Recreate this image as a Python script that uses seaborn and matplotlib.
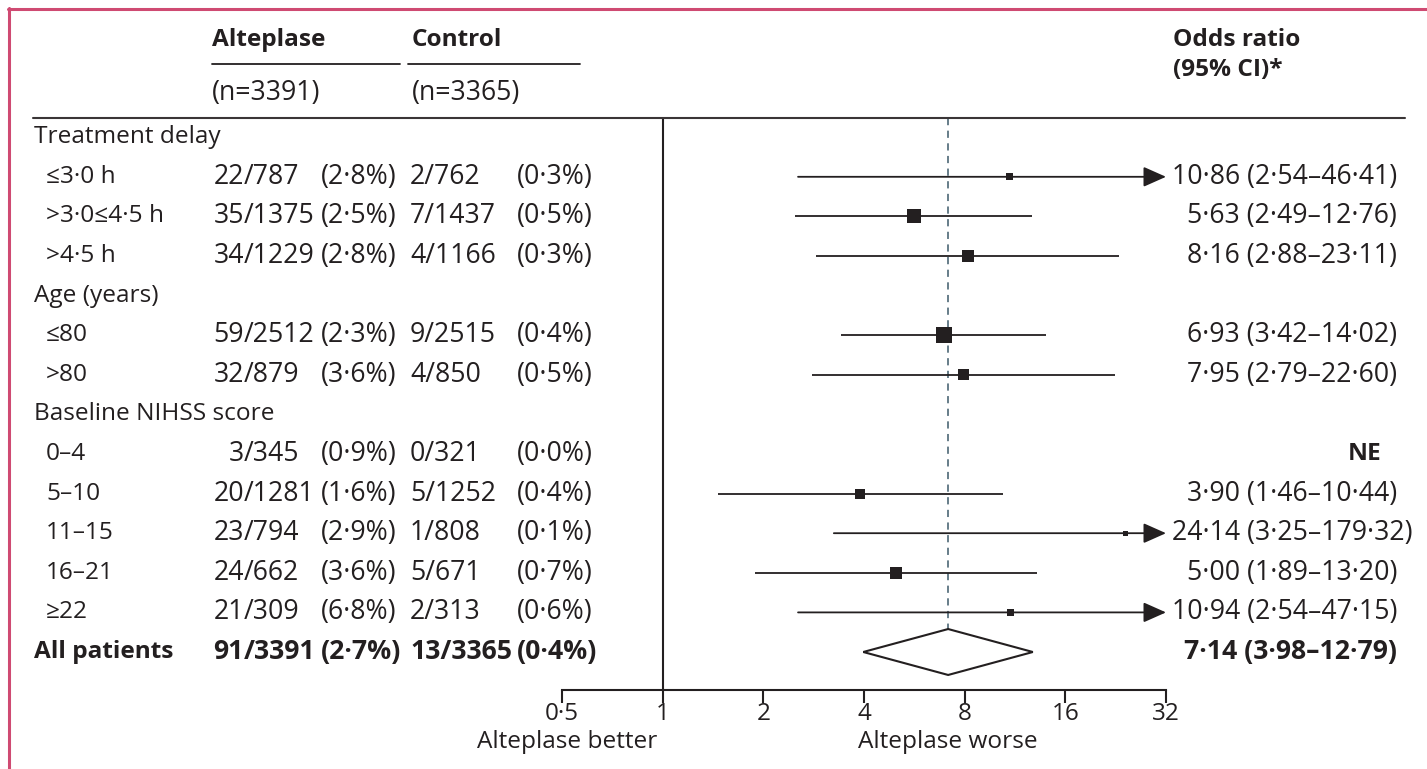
import pandas as pd
import seaborn as sns
import matplotlib.pyplot as plt
from matplotlib.lines import Line2D
from matplotlib.ticker import NullLocator
from matplotlib.transforms import blended_transform_factory

# Rows of the forest plot (top to bottom)
labels = ['Treatment delay', '≤3·0 h', '>3·0≤4·5 h', '>4·5 h',
          'Age (years)', '≤80', '>80',
          'Baseline NIHSS score', '0–4', '5–10', '11–15', '16–21', '≥22',
          'All patients']
kinds = ['group', 'sub', 'sub', 'sub',
         'group', 'sub', 'sub',
         'group', 'sub', 'sub', 'sub', 'sub', 'sub',
         'total']

alt_events = [None, 22, 35, 34, None, 59, 32, None, 3, 20, 23, 24, 21, 91]
alt_n = [None, 787, 1375, 1229, None, 2512, 879, None, 345, 1281, 794, 662, 309, 3391]
ctl_events = [None, 2, 7, 4, None, 9, 4, None, 0, 5, 1, 5, 2, 13]
ctl_n = [None, 762, 1437, 1166, None, 2515, 850, None, 321, 1252, 808, 671, 313, 3365]

odds = [None, 10.86, 5.63, 8.16, None, 6.93, 7.95, None, None, 3.90, 24.14, 5.00, 10.94, 7.14]
ci_lo = [None, 2.54, 2.49, 2.88, None, 3.42, 2.79, None, None, 1.46, 3.25, 1.89, 2.54, 3.98]
ci_hi = [None, 46.41, 12.76, 23.11, None, 14.02, 22.60, None, None, 10.44, 179.32, 13.20, 47.15, 12.79]
# box size (weight) in pixels
box_px = [None, 7, 14, 12, None, 16, 11, None, None, 10, 5, 12, 7, None]

ticks = [0.5, 1, 2, 4, 8, 16, 32]
tick_labels = ['0·5', '1', '2', '4', '8', '16', '32']

W, H = 1427, 769
INK = '#231f20'
FS = 17.6      # words
FN = 19.2      # numbers
FT = 17.5      # tick labels


def fx(px):
    return px / W


def fy(py):
    return 1 - py / H


def dot(v, fmt):
    return format(v, fmt).replace('.', '·')


sns.set_theme(style='white')
plt.rcParams['font.family'] = ['Open Sans', 'DejaVu Sans']
plt.rcParams['text.color'] = INK

fig = plt.figure(figsize=(W / 100, H / 100), dpi=100)
ax = fig.add_axes([fx(562), fy(690), fx(1166) - fx(562), (690 - 118) / H])

n_rows = len(labels)
step = 39.6
last_y = 652
ax.set_xscale('log', base=2)
ax.set_xlim(ticks[0], ticks[-1])
ax.set_ylim(n_rows - 1 + (690 - last_y) / step,
            n_rows - 1 - (last_y - 118) / step)

df = pd.DataFrame({'row': range(n_rows), 'label': labels, 'kind': kinds,
                   'or': odds, 'lo': ci_lo, 'hi': ci_hi, 'box': box_px})

# vertical reference lines
ax.axvline(1, color=INK, lw=1.5, zorder=1)
diamond_half = 0.58
total = df[df['kind'] == 'total'].iloc[0]
ax.vlines(total['or'], ax.get_ylim()[1], total['row'] - diamond_half,
          color='#5b7380', lw=1.3, linestyles=(0, (4, 3)), zorder=1)

# confidence intervals
top = ticks[-1]
subs = df[(df['kind'] == 'sub') & df['or'].notna()]
for _, r in subs.iterrows():
    if r['hi'] > top:
        ax.annotate('', xy=(top, r['row']), xytext=(r['lo'], r['row']),
                    arrowprops=dict(arrowstyle='-|>,head_length=0.45,head_width=0.2',
                                    mutation_scale=31, color=INK, lw=1.3,
                                    shrinkA=0, shrinkB=0))
    else:
        ax.hlines(r['row'], r['lo'], r['hi'], color=INK, lw=1.3)

# boxes
sizes = {b: (b * 0.72) ** 2 for b in subs['box'].unique()}
sns.scatterplot(data=subs, x='or', y='row', size='box', sizes=sizes,
                marker='s', color=INK, linewidth=0, legend=False, ax=ax, zorder=3)

# pooled diamond
ax.fill([total['lo'], total['or'], total['hi'], total['or']],
        [total['row'], total['row'] - diamond_half, total['row'], total['row'] + diamond_half],
        facecolor='white', edgecolor=INK, lw=1.5, zorder=3)

# axis styling
for s in ['top', 'right', 'left']:
    ax.spines[s].set_visible(False)
ax.spines['bottom'].set_color(INK)
ax.spines['bottom'].set_linewidth(1.5)
ax.set_xticks(ticks)
ax.set_xticklabels(tick_labels)
ax.xaxis.set_minor_locator(NullLocator())
ax.set_yticks([])
ax.tick_params(axis='x', direction='out', length=9, width=1.5, color=INK,
               labelsize=FT, labelcolor=INK, pad=0, bottom=True)
ax.set_xlabel('')
ax.set_ylabel('')
ax.set_facecolor('none')

# table text
tr = blended_transform_factory(fig.transFigure, ax.transData)
for i in range(n_rows):
    kind = kinds[i]
    wt = 'bold' if kind == 'total' else 'normal'
    x_label = 34 if kind in ('group', 'total') else 46
    ax.text(fx(x_label), i, labels[i], transform=tr, ha='left', va='center',
            fontsize=FS, fontweight=wt)
    if alt_n[i] is None:
        continue
    ax.text(fx(244), i, str(alt_events[i]), transform=tr, ha='right', va='center',
            fontsize=FN, fontweight=wt)
    ax.text(fx(244), i, f'/{alt_n[i]}', transform=tr, ha='left', va='center',
            fontsize=FN, fontweight=wt)
    ax.text(fx(321), i, f'({dot(100 * alt_events[i] / alt_n[i], ".1f")}%)', transform=tr,
            ha='left', va='center', fontsize=FN, fontweight=wt)
    ax.text(fx(410), i, f'{ctl_events[i]}/{ctl_n[i]}', transform=tr, ha='left', va='center',
            fontsize=FN, fontweight=wt)
    ax.text(fx(517), i, f'({dot(100 * ctl_events[i] / ctl_n[i], ".1f")}%)', transform=tr,
            ha='left', va='center', fontsize=FN, fontweight=wt)
    if odds[i] is None:
        ax.text(fx(1381), i, 'NE', transform=tr, ha='right', va='center',
                fontsize=FS, fontweight='bold')
    else:
        txt = f'{dot(odds[i], ".2f")} ({dot(ci_lo[i], ".2f")}–{dot(ci_hi[i], ".2f")})'
        if ci_hi[i] > top:
            # text sits right after the arrow head
            ax.text(fx(1172), i, txt, transform=tr, ha='left', va='center',
                    fontsize=FN, fontweight=wt)
        else:
            ax.text(fx(1397), i, txt, transform=tr, ha='right', va='center',
                    fontsize=FN, fontweight=wt)

# column headers
fig.text(fx(212), fy(40), 'Alteplase', ha='left', va='center', fontsize=FS, fontweight='bold')
fig.text(fx(412), fy(40), 'Control', ha='left', va='center', fontsize=FS, fontweight='bold')
fig.text(fx(212), fy(93), f'(n={alt_n[-1]})', ha='left', va='center', fontsize=FN)
fig.text(fx(412), fy(93), f'(n={ctl_n[-1]})', ha='left', va='center', fontsize=FN)
fig.text(fx(1173), fy(40), 'Odds ratio', ha='left', va='center', fontsize=FS, fontweight='bold')
fig.text(fx(1173), fy(70), '(95% CI)*', ha='left', va='center', fontsize=FS, fontweight='bold')
fig.text(fx(657), fy(742), 'Alteplase better', ha='right', va='center', fontsize=FS)
fig.text(fx(858), fy(742), 'Alteplase worse', ha='left', va='center', fontsize=FS)

# rules
fig.add_artist(Line2D([fx(212), fx(400)], [fy(64), fy(64)], color=INK, lw=1.3))
fig.add_artist(Line2D([fx(408), fx(580)], [fy(64), fy(64)], color=INK, lw=1.3))
fig.add_artist(Line2D([fx(33), fx(1405)], [fy(118), fy(118)], color='#3a3536', lw=1.5))

# pink frame
fig.add_artist(Line2D([fx(8.5), fx(8.5)], [fy(8), fy(769)], color='#cf4a72', lw=2.2))
fig.add_artist(Line2D([fx(7.5), fx(1427)], [fy(8.5), fy(8.5)], color='#cf4a72', lw=2.2))

fig.savefig('out.png', dpi=100, facecolor='white')
